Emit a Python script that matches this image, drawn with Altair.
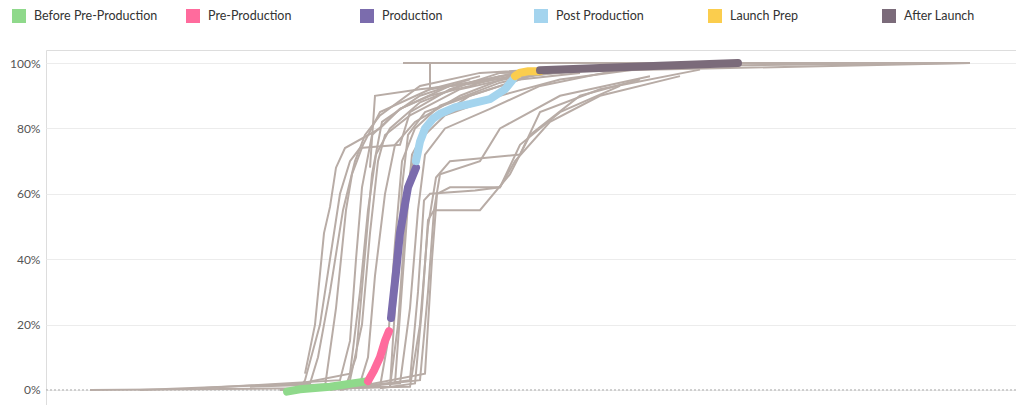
import altair as alt
import pandas as pd

# gray background lines: lists of (x, pct)
gray_lines = [
    [(90,0),(300,0.5),(305,3),(320,20),(330,40),(340,60),(350,70),(360,74),(400,75),(410,85),(450,92),(500,97),(970,100)],
    [(140,0),(310,2),(318,10),(330,30),(343,55),(355,70),(365,78),(380,84),(420,93),(480,97),(600,99),(970,100)],
    [(200,0.5),(340,3),(350,15),(356,40),(362,62),(372,78),(400,86),(450,93),(520,97),(700,100)],
    [(250,1),(360,2),(368,10),(375,35),(385,60),(395,75),(415,82),(460,90),(510,96),(640,99)],
    [(280,0),(380,1),(388,15),(395,45),(402,70),(415,80),(440,87),(500,94),(560,98)],
    [(300,0),(390,1),(398,20),(405,50),(412,72),(430,82),(470,90),(530,96),(600,99)],
    [(310,0),(400,2),(410,25),(418,55),(425,72),(445,80),(490,86),(540,93),(620,98)],
    [(320,0.5),(410,1),(420,20),(428,50),(436,65),(450,70),(520,72),(540,85),(600,92),(700,98)],
    [(330,0),(420,3),(428,30),(434,55),(440,66),(480,70),(500,80),(560,90),(650,96)],
    [(340,0),(425,5),(432,40),(437,60),(450,62),(500,62),(520,75),(560,85),(620,93)],
    [(360,1),(410,3),(418,30),(424,58),(430,60),(475,61),(500,62),(515,70),(550,82),(600,90),(680,96)],
    [(380,0.5),(415,2),(422,25),(428,52),(434,55),(480,55),(510,66),(530,78),(580,90),(640,95)],
    [(300,2),(350,5),(360,30),(368,55),(376,72),(390,80),(420,88),(470,94),(530,98)],
    [(305,5),(315,20),(324,48),(330,56),(336,68),(345,74),(380,80),(400,86),(430,90),(470,93),(500,96)],
    [(370,68),(375,90),(420,92),(480,94),(540,98),(600,99)],
    [(403,100),(600,100),(970,100)],
    [(430,100),(430,92),(470,94),(520,96)],
    [(350,3),(362,20),(370,48),(378,70),(385,78),(410,84),(460,92),(520,96),(600,98)],
    [(390,1),(396,30),(402,62),(408,78),(425,85),(470,90),(520,95),(580,97)],
    [(345,0.5),(356,10),(364,38),(372,66),(382,82),(420,90),(470,95)],
    [(395,2),(404,40),(410,66),(418,76),(445,84),(500,90),(560,95),(660,99)],
    [(325,1),(336,25),(346,55),(352,66),(363,75),(380,85),(430,92),(480,96)],
]

phases = ["Before Pre-Production","Pre-Production","Production","Post Production","Launch Prep","After Launch"]
colors = ["#8fd98b","#ff6b9d","#7b6cad","#a4d4ee","#fbcd4d","#7b6b7a"]
highlight = {
    "Before Pre-Production": [(287,-0.5),(300,0.2),(330,1),(368,2.7)],
    "Pre-Production": [(368,2.7),(374,6),(380,10),(385,15),(389,18)],
    "Production": [(391,22),(396,36),(400,48),(404,55),(408,62),(416,68)],
    "Post Production": [(416,70),(420,76),(425,80),(433,83),(440,84.5),(455,86.5),(470,87.5),(490,89),(505,92),(513,95)],
    "Launch Prep": [(515,96),(520,97),(528,97.5),(540,97.5)],
    "After Launch": [(540,97.8),(600,98.5),(660,99.2),(738,100)],
}

rows = []
for i, line in enumerate(gray_lines):
    for k, (x, y) in enumerate(line):
        rows.append({"id": i, "k": k, "x": x, "y": y})
gray = pd.DataFrame(rows)

hrows = []
for p in phases:
    for k, (x, y) in enumerate(highlight[p]):
        hrows.append({"phase": p, "k": k, "x": x, "y": y})
hl = pd.DataFrame(hrows)

xs = alt.Scale(domain=[46, 1016], nice=False)
ys = alt.Scale(domain=[-4.6, 104], nice=False)

base_gray = alt.Chart(gray).mark_line(color="#b8aca6", strokeWidth=2).encode(
    x=alt.X("x:Q", scale=xs, axis=None),
    y=alt.Y("y:Q", scale=ys, axis=alt.Axis(values=[0,20,40,60,80,100], labelExpr="datum.value + '%'",
            title=None, domain=False, ticks=False, gridColor="#ececec", labelColor="#555",
            labelFontSize=12, labelPadding=6)),
    detail="id:N", order="k:Q")

zero = alt.Chart(pd.DataFrame({"y": [0]})).mark_rule(color="#aaa", strokeDash=[2, 2], strokeWidth=1).encode(
    y=alt.Y("y:Q", scale=ys))

hi = alt.Chart(hl).mark_line(strokeWidth=8, strokeCap="round").encode(
    x=alt.X("x:Q", scale=xs),
    y=alt.Y("y:Q", scale=ys),
    color=alt.Color("phase:N", scale=alt.Scale(domain=phases, range=colors),
        legend=alt.Legend(title=None, orient="none", legendX=-34, legendY=-41, direction="horizontal",
            columns=6, gridAlign="all", columnPadding=16, symbolType="square", symbolSize=36,
            symbolStrokeWidth=8, labelFontSize=12.5, labelColor="#333", labelLimit=200,
            labelOffset=8, symbolOpacity=1)),
    detail="phase:N", order="k:Q")

chart = alt.layer(zero, base_gray, hi).properties(
    width=970, height=355, padding={"left": 38, "top": 42, "right": 0, "bottom": 0},
    autosize=alt.AutoSizeParams(type="none")
).configure_view(stroke=None).configure(font="Lato")

chart.save("out.html", embed_options={"renderer": "svg", "actions": False})
